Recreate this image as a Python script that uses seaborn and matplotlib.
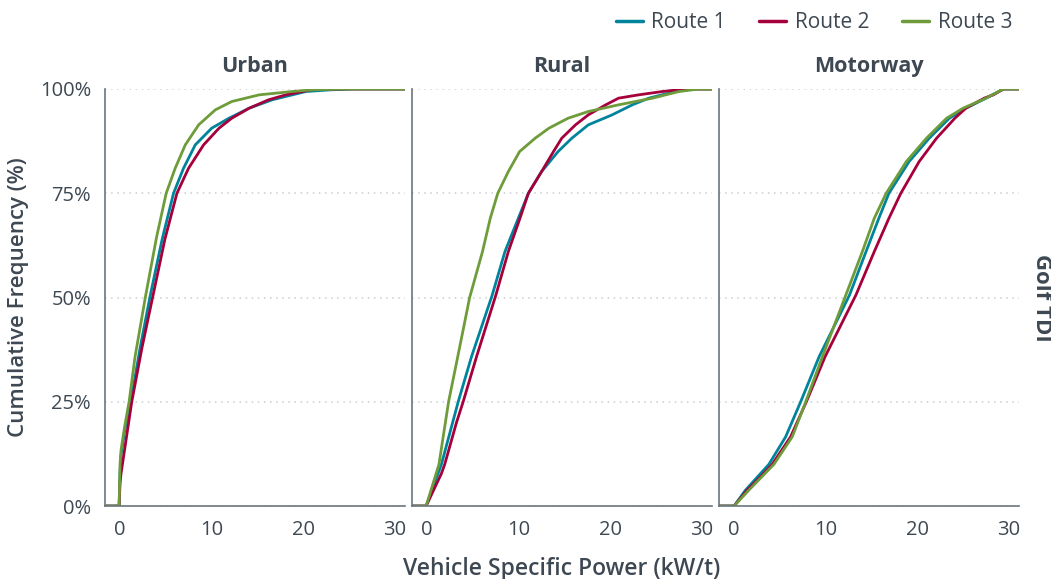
import matplotlib
matplotlib.use("Agg")
import matplotlib.pyplot as plt
import seaborn as sns
import pandas as pd
from matplotlib.ticker import PercentFormatter

# cumulative VSP curves (x in kW/t, y as fraction)
areas = ["Urban", "Rural", "Motorway"]
routes = ["Route 1", "Route 2", "Route 3"]
colors = ["#00849b", "#a6003c", "#6f9c3a"]

urban_r1_x = [-2, -0.1, 0, 0.1, 0.5, 1.17, 2.2, 3.3, 4.6, 5.84, 6.93, 8.21, 10.0, 11.9, 14.1, 16.6, 18.8, 20.3, 23, 25.5, 32]
urban_r1_y = [0, 0, 0.08, 0.12, 0.18, 0.25, 0.38, 0.505, 0.64, 0.75, 0.81, 0.866, 0.906, 0.93, 0.954, 0.974, 0.986, 0.994, 0.998, 1, 1]
urban_r2_x = [-2, -0.1, 0, 0.11, 0.6, 1.28, 2.4, 3.6, 4.9, 6.21, 7.48, 9.12, 10.8, 12.2, 14.1, 16.2, 18.1, 19.9, 21.3, 32]
urban_r2_y = [0, 0, 0.055, 0.078, 0.15, 0.25, 0.38, 0.505, 0.64, 0.75, 0.81, 0.866, 0.906, 0.93, 0.954, 0.974, 0.986, 0.994, 1, 1]
urban_r3_x = [-2, -0.1, 0, 0.11, 0.5, 0.99, 1.64, 2.8, 4.0, 5.04, 6.02, 7.12, 8.58, 10.4, 12.2, 15.2, 18.8, 21, 24, 32]
urban_r3_y = [0, 0, 0.10, 0.134, 0.19, 0.25, 0.358, 0.505, 0.646, 0.75, 0.81, 0.866, 0.914, 0.95, 0.97, 0.986, 0.994, 0.998, 1, 1]

rural_r1_x = [-2, -0.1, 1.57, 3.40, 4.85, 7.1, 8.50, 9.96, 11.06, 12.5, 14.3, 15.8, 17.6, 20.2, 22.4, 24.2, 27.1, 29, 32]
rural_r1_y = [0, 0, 0.10, 0.25, 0.358, 0.505, 0.61, 0.69, 0.75, 0.802, 0.85, 0.882, 0.914, 0.938, 0.962, 0.978, 0.994, 1, 1]
rural_r2_x = [-2, -0.1, 1.57, 1.93, 3.21, 3.94, 5.40, 7.5, 8.87, 10.14, 11.06, 12.5, 13.8, 14.7, 16.2, 17.6, 19.5, 20.9, 23.1, 25.7, 28.2, 32]
rural_r2_y = [0, 0, 0.078, 0.10, 0.20, 0.25, 0.358, 0.505, 0.61, 0.69, 0.75, 0.802, 0.85, 0.882, 0.914, 0.938, 0.962, 0.978, 0.986, 0.994, 1, 1]
rural_r3_x = [-2, -0.1, 1.3, 2.35, 3.35, 4.65, 6.05, 6.9, 7.72, 8.87, 10.1, 11.8, 13.3, 15.4, 17.6, 20.9, 24.6, 27.5, 29.7, 32]
rural_r3_y = [0, 0, 0.10, 0.25, 0.358, 0.50, 0.61, 0.69, 0.75, 0.802, 0.85, 0.882, 0.906, 0.93, 0.946, 0.962, 0.978, 0.994, 1, 1]

motor_r1_x = [-2, 0, 1.24, 3.80, 5.63, 7.27, 9.28, 12.6, 14.4, 15.8, 16.9, 19.1, 21.3, 23.5, 25.3, 27.5, 29.4, 32]
motor_r1_y = [0, 0, 0.038, 0.10, 0.166, 0.25, 0.358, 0.506, 0.61, 0.69, 0.75, 0.826, 0.882, 0.93, 0.954, 0.978, 1, 1]
motor_r2_x = [-2, 0, 1.42, 2.89, 4.16, 6.17, 7.89, 9.93, 13.3, 15.3, 16.9, 18.2, 20.2, 22.1, 24.1, 25.3, 27.3, 28.3, 29.4, 32]
motor_r2_y = [0, 0, 0.038, 0.07, 0.10, 0.166, 0.25, 0.358, 0.506, 0.61, 0.69, 0.75, 0.826, 0.882, 0.93, 0.954, 0.978, 0.986, 1, 1]
motor_r3_x = [-2, 0, 1.61, 4.35, 6.35, 7.82, 9.64, 12.2, 14.0, 15.3, 16.6, 18.8, 21.0, 23.2, 25.0, 27.5, 29.4, 32]
motor_r3_y = [0, 0, 0.038, 0.10, 0.166, 0.25, 0.358, 0.506, 0.61, 0.69, 0.75, 0.826, 0.882, 0.93, 0.954, 0.978, 1, 1]

curves = {
    ("Urban", "Route 1"): (urban_r1_x, urban_r1_y),
    ("Urban", "Route 2"): (urban_r2_x, urban_r2_y),
    ("Urban", "Route 3"): (urban_r3_x, urban_r3_y),
    ("Rural", "Route 1"): (rural_r1_x, rural_r1_y),
    ("Rural", "Route 2"): (rural_r2_x, rural_r2_y),
    ("Rural", "Route 3"): (rural_r3_x, rural_r3_y),
    ("Motorway", "Route 1"): (motor_r1_x, motor_r1_y),
    ("Motorway", "Route 2"): (motor_r2_x, motor_r2_y),
    ("Motorway", "Route 3"): (motor_r3_x, motor_r3_y),
}

rows = []
for (area, route), (xs, ys) in curves.items():
    for x, y in zip(xs, ys):
        rows.append({"area": area, "route": route, "vsp": x, "cum": y})
df = pd.DataFrame(rows)

sns.set_theme(style="white")
plt.rcParams["font.family"] = ["Open Sans", "DejaVu Sans"]
txt = "#3e4852"
spine = "#6b757e"

g = sns.relplot(data=df, x="vsp", y="cum", hue="route", col="area",
                kind="line", hue_order=routes, col_order=areas,
                palette=colors, estimator=None, sort=False,
                linewidth=2.0, legend=False, facet_kws={"sharey": True})
g.figure.set_size_inches(10.51, 5.79)
g.figure.subplots_adjust(left=0.0999, right=0.9696, bottom=0.126, top=0.8463, wspace=0.0233)

for ax, area in zip(g.axes.flat, areas):
    ax.set_xlim(-1.64, 31.1)
    ax.set_ylim(0, 1)
    ax.set_xticks([0, 10, 20, 30])
    ax.set_yticks([0, 0.25, 0.5, 0.75, 1.0])
    ax.yaxis.set_major_formatter(PercentFormatter(1.0, decimals=0))
    ax.grid(axis="y", color="#c9cdd1", linestyle=(0, (1, 3)), linewidth=1.1)
    ax.grid(axis="x", visible=False)
    ax.set_axisbelow(True)
    for s in ["top", "right"]:
        ax.spines[s].set_visible(False)
    for s in ["left", "bottom"]:
        ax.spines[s].set_color(spine)
        ax.spines[s].set_linewidth(1.2)
    ax.tick_params(axis="both", length=0, labelsize=14.5, labelcolor=txt)
    ax.tick_params(axis="x", pad=10)
    ax.tick_params(axis="y", pad=10)
    ax.set_title(area, fontsize=15.5, fontweight="bold", color=txt, pad=12)
    ax.set_xlabel("")
    ax.set_ylabel("")

g.axes.flat[0].set_ylabel("Cumulative Frequency (%)", fontsize=16, color=txt,
                          fontweight="semibold", labelpad=8)
g.axes.flat[1].set_xlabel("Vehicle Specific Power (kW/t)", fontsize=16.5, color=txt,
                          fontweight="semibold", labelpad=12)
g.axes.flat[2].text(1.04, 0.5, "Golf TDI", transform=g.axes.flat[2].transAxes,
                    rotation=-90, ha="left", va="center", fontsize=16,
                    fontweight="bold", color=txt)

handles = [plt.Line2D([], [], color=c, linewidth=2.5) for c in colors]
g.figure.legend(handles, routes, loc="upper right", bbox_to_anchor=(0.981, 1.012),
                ncol=3, frameon=False, fontsize=15, handlelength=1.3,
                handletextpad=0.4, columnspacing=1.6, labelcolor=txt)

g.figure.savefig("out.png", dpi=100)
